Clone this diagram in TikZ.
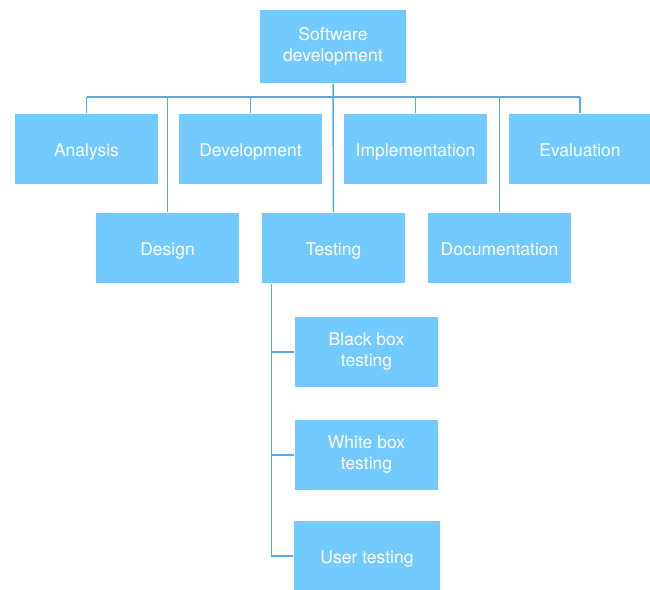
\documentclass[tikz,border=0pt]{standalone}
\usepackage{fontspec}
\setmainfont{TeX Gyre Heros}
\usetikzlibrary{positioning, calc}
\definecolor{cbox}{HTML}{73CAFE}
\definecolor{cline}{HTML}{5AA9E6}
\tikzset{
  every picture/.style={line width=1.5pt},
  box/.style={fill=cbox, draw=none, text=white, align=center, inner sep=2pt,
    minimum width=143pt, minimum height=70pt, font=\fontsize{17.5}{21}\selectfont},
  flat/.style={box, text height=14pt, text depth=0pt},
  link/.style={draw=cline, line width=1.5pt},
}
\begin{document}
\begin{tikzpicture}[x=1pt, y=-1pt,
  top/.style={box, minimum width=146pt, minimum height=73pt}]
  \useasboundingbox (0,0) rectangle (650,589);
  \node[top] (soft) at (333,46.5) {Software\\development};
  % first row
  \node[flat] (ana) at (86.5,149) {Analysis};
  \node[flat] (dev) at (250.5,149) {Development};
  \node[flat] (imp) at (415.5,149) {Implementation};
  \node[flat] (eva) at (580,149) {Evaluation};
  % second row
  \node[flat] (des) at (167.5,248) {Design};
  \node[flat] (tst) at (333.5,248) {Testing};
  \node[flat] (doc) at (499.5,248) {Documentation};
  % testing
  \node[box] (blk) at (366.5,352) {Black box\\testing};
  \node[box] (wht) at (366.5,455) {White box\\testing};
  \node[flat, minimum width=146pt] (usr) at (367,556) {User testing};
  \coordinate (bus) at (0,97);
  \coordinate (trunk) at ([xshift=10pt]tst.south west);
  \draw[link] (soft.south) -- (tst.north);
  \draw[link] (ana.north |- bus) -- (eva.north |- bus);
  \foreach \n in {ana, dev, imp, eva, des, doc}
    \draw[link] (\n.north) -- (\n.north |- bus);
  \draw[link] (trunk) |- (usr.west);
  \draw[link] (trunk |- blk.west) -- (blk.west);
  \draw[link] (trunk |- wht.west) -- (wht.west);
\end{tikzpicture}
\end{document}
